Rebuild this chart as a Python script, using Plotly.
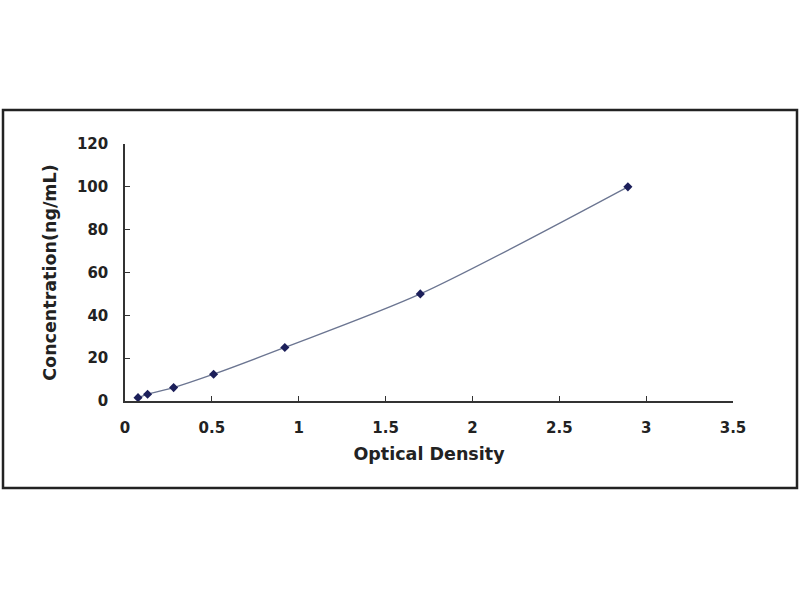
import plotly.graph_objects as go

od = [0.075, 0.13, 0.28, 0.51, 0.92, 1.70, 2.895]
conc = [1.56, 3.12, 6.25, 12.5, 25, 50, 100]
x_ticks = [0, 0.5, 1, 1.5, 2, 2.5, 3, 3.5]
x_tick_labels = ["0", "0.5", "1", "1.5", "2", "2.5", "3", "3.5"]
y_ticks = [0, 20, 40, 60, 80, 100, 120]

W, H = 800, 600
L, T = 125, 144
pw, ph = 608, 257
R, B = W - L - pw, H - T - ph

def px_x(p):
    return (p - L) / pw

def px_y(p):
    return (H - B - p) / ph

fig = go.Figure()
fig.add_trace(go.Scatter(
    x=od, y=conc, mode="lines+markers",
    line=dict(color="#6b7591", width=1.3, shape="spline", smoothing=0.8),
    marker=dict(symbol="diamond", size=7, color="#1c1f5a"),
    showlegend=False,
))

tick_font = dict(family="DejaVu Sans, sans-serif", size=15, color="#222222", weight="bold")
title_font = dict(family="DejaVu Sans, sans-serif", size=17.5, color="#222222", weight="bold")
fig.update_layout(
    width=W, height=H,
    margin=dict(l=L, r=R, t=T, b=B),
    paper_bgcolor="white", plot_bgcolor="white",
    font=tick_font,
    xaxis=dict(
        range=[0, 3.5], tickvals=x_ticks, ticktext=x_tick_labels, tickfont=tick_font,
        showgrid=False, zeroline=False, showline=True, linecolor="#333333", linewidth=1.5,
        ticks="inside", ticklen=5, tickcolor="#333333", ticklabelstandoff=12,
        title=dict(text="Optical Density", font=title_font, standoff=12),
    ),
    yaxis=dict(
        range=[0, 120], tickvals=y_ticks, tickfont=tick_font,
        showgrid=False, zeroline=False, showline=True, linecolor="#333333", linewidth=1.5,
        ticks="inside", ticklen=5, tickcolor="#333333", ticklabelstandoff=12,
        title=dict(text="Concentration(ng/mL)", font=title_font, standoff=16),
    ),
    shapes=[dict(
        type="rect", xref="paper", yref="paper",
        x0=px_x(3), x1=px_x(797), y0=px_y(488), y1=px_y(110),
        line=dict(color="#222222", width=2.5), fillcolor="rgba(0,0,0,0)",
        layer="below",
    )],
)

fig.write_html(
    "out.html",
    config={"displayModeBar": False},
    post_script="document.body.style.margin='0';document.body.style.overflow='hidden';",
)
